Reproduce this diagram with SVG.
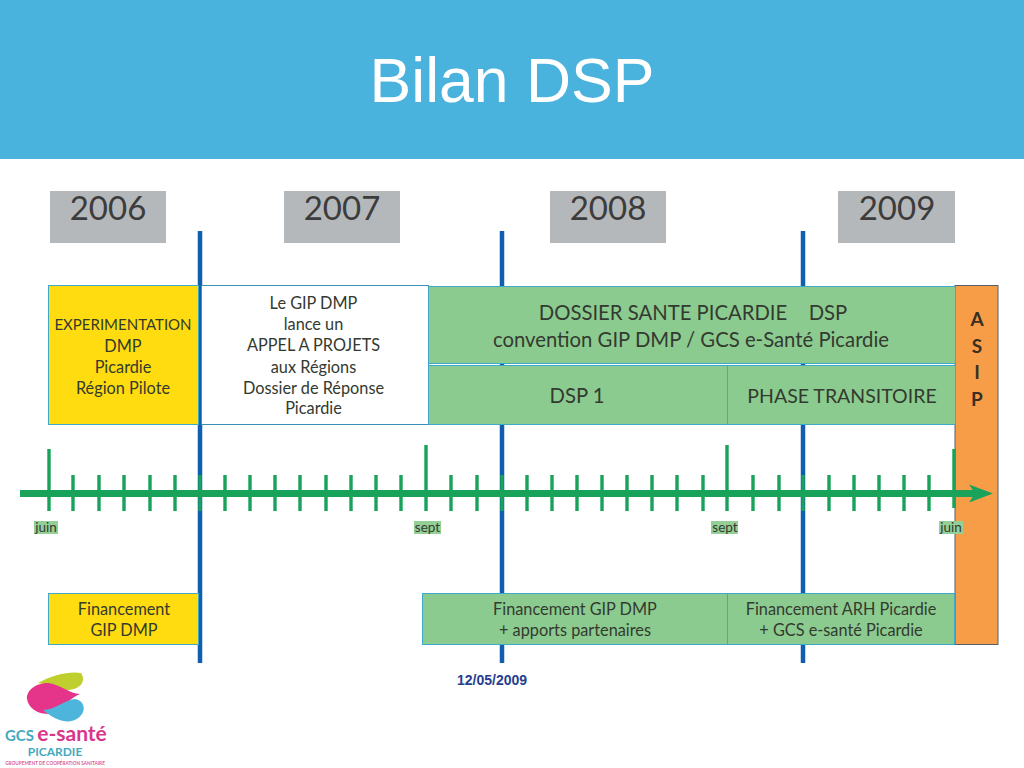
<svg xmlns="http://www.w3.org/2000/svg" width="1024" height="768" viewBox="0 0 1024 768">
<style>
.t{font-family:Lato,"Liberation Sans",sans-serif;fill:#333a30;text-anchor:middle}
.y{font-family:Lato,"Liberation Sans",sans-serif;font-size:33px;fill:#3c3c3c;text-anchor:middle}
.s{font-size:16.3px}.m{font-size:20.3px}.l{font-size:13.5px}
.yb{fill:#b5b8ba}.g{fill:#8ccb8f;stroke:#3fa9c9;stroke-width:1}.o{fill:#ffdc0f;stroke:#3fa9c9;stroke-width:1}
.v{stroke:#0f5fae;stroke-width:4.5;fill:none}
.tk{stroke:#18a25a;stroke-width:3.400;fill:none}
.lb{fill:#93cf96}
</style>
<rect x="0" y="0" width="1024" height="159" fill="#49b3dd"/>
<text id="title" x="512" y="102" font-family="Liberation Sans,sans-serif" font-size="62.500" fill="#fff" text-anchor="middle">Bilan DSP</text>
<g id="years">
<g id="y2006"><rect class="yb" x="50" y="191" width="116" height="52"/><text class="y" x="108" y="220">2006</text></g>
<g id="y2007"><rect class="yb" x="284" y="191" width="116" height="52"/><text class="y" x="342" y="220">2007</text></g>
<g id="y2008"><rect class="yb" x="550" y="191" width="116" height="52"/><text class="y" x="608" y="220">2008</text></g>
<g id="y2009"><rect class="yb" x="838" y="191" width="117" height="52"/><text class="y" x="897" y="220">2009</text></g>
</g>
<g id="connectors">
<path class="v" d="M200 231V663M502 231V663M803 231V663"/>
</g>
<g id="asip"><rect x="955" y="285.500" width="43" height="359" fill="#f79d48" stroke="#56606a" stroke-width="1"/>
<g font-family="Lato,Liberation Sans,sans-serif" font-size="19" font-weight="700" fill="#3a3020" text-anchor="middle"><text x="977" y="326">A</text><text x="977" y="353">S</text><text x="977" y="379">I</text><text x="977" y="406">P</text></g></g>
<g id="exp"><rect class="o" x="48.500" y="285.500" width="150" height="139"/>
<text class="t s"><tspan x="123" y="330" font-size="15">EXPERIMENTATION</tspan><tspan x="123" y="352">DMP</tspan><tspan x="123" y="373">Picardie</tspan><tspan x="123" y="394">Région Pilote</tspan></text></g>
<g id="appel"><rect x="201.500" y="285.500" width="227" height="139" fill="#fff" stroke="#3a8fb5" stroke-width="1"/>
<text class="t s"><tspan x="313.500" y="309">Le GIP DMP</tspan><tspan x="313.500" y="330">lance un</tspan><tspan x="313.500" y="351">APPEL A PROJETS</tspan><tspan x="313.500" y="373">aux Régions</tspan><tspan x="313.500" y="394">Dossier de Réponse</tspan><tspan x="313.500" y="414">Picardie</tspan></text></g>
<g id="dossier"><rect class="g" x="428.500" y="286.500" width="527" height="77"/>
<text class="t m"><tspan x="663" y="320">DOSSIER SANTE PICARDIE</tspan><tspan x="828" y="320">DSP</tspan><tspan x="691" y="347">convention GIP DMP / GCS e-Santé Picardie</tspan></text></g>
<g id="dsp1"><rect class="g" x="428.500" y="365.500" width="299" height="59"/><text class="t m" x="577" y="403">DSP 1</text></g>
<g id="phase"><rect class="g" x="727.500" y="365.500" width="228" height="59"/><text class="t" font-size="19.500" x="842" y="403">PHASE TRANSITOIRE</text></g>
<g id="timeline">
<path class="tk" d="M49 449V511M73 475V511M99 475V511M124 475V511M150 475V511M175 475V511M200 475V511M225 475V511M250 475V511M275 475V511M300 475V511M326 475V511M351 475V511M376 475V511M401 475V511M426 445V511M451 475V511M477 475V511M502 475V511M527 475V511M552 475V511M577 475V511M602 475V511M627 475V511M652 475V511M677 475V511M703 475V511M727 445V511M753 475V511M779 475V511M803 475V511M829 475V511M854 475V511M879 475V511M904 475V511M929 475V511M954 449V508"/>
<path d="M20 490H978V497H20Z" fill="#18a25a"/>
<path d="M969 484.500L993 493.500L969 502.500L975 493.500Z" fill="#18a25a"/>
</g>
<g id="lab-juin1"><rect class="lb" x="34" y="521" width="24" height="13"/><text class="t l" x="46" y="532">juin</text></g>
<g id="lab-sept1"><rect class="lb" x="414" y="521" width="27" height="13"/><text class="t l" x="427.500" y="532">sept</text></g>
<g id="lab-sept2"><rect class="lb" x="711" y="521" width="27" height="13"/><text class="t l" x="725" y="532">sept</text></g>
<g id="lab-juin2"><rect class="lb" x="939" y="521" width="24" height="13"/><text class="t l" x="951" y="532">juin</text></g>
<g id="fin1"><rect class="o" x="48.500" y="593.500" width="150" height="51"/><text class="t s"><tspan x="124" y="615">Financement</tspan><tspan x="124" y="636">GIP DMP</tspan></text></g>
<g id="fin2"><rect class="g" x="422.500" y="593.500" width="305" height="51"/><text class="t s"><tspan x="575" y="615">Financement GIP DMP</tspan><tspan x="575" y="636">+ apports partenaires</tspan></text></g>
<g id="fin3"><rect class="g" x="727.500" y="593.500" width="227" height="51"/><text class="t s"><tspan x="841" y="615">Financement ARH Picardie</tspan><tspan x="841" y="636">+ GCS  e-santé Picardie</tspan></text></g>
<text id="date" x="492" y="685" font-family="Liberation Sans,sans-serif" font-size="14" font-weight="700" fill="#26408f" text-anchor="middle">12/05/2009</text>
<g id="logo">
<path d="M38 683C52 675 70 671 81 673C86 680 82 689 68 690C58 691 48 685 38 683Z" fill="#bfcf2e"/>
<path d="M80 694C70 694 60 684 48 683C34 683 26 692 27 699C29 711 44 717 54 712C62 708 70 698 80 694Z" fill="#e5358a"/>
<path d="M43 710C55 710 64 700 75 699C83 700 86 708 82 714C76 723 62 726 43 710Z" fill="#4db5dc"/>
<text x="19.500" y="741" font-family="Lato,Liberation Sans,sans-serif" font-size="15" font-weight="700" fill="#45a9bd" text-anchor="middle">GCS</text>
<text x="72" y="741" font-family="Lato,Liberation Sans,sans-serif" font-size="21" font-weight="700" fill="#d9368a" text-anchor="middle">e-santé</text>
<text x="55" y="756" font-family="Lato,Liberation Sans,sans-serif" font-size="12" font-weight="700" fill="#45a9bd" text-anchor="middle">PICARDIE</text>
<text x="55" y="765" font-family="Lato,Liberation Sans,sans-serif" font-size="4.700" font-weight="700" fill="#d9609a" text-anchor="middle">GROUPEMENT DE COOPÉRATION SANITAIRE</text>
</g>
</svg>
